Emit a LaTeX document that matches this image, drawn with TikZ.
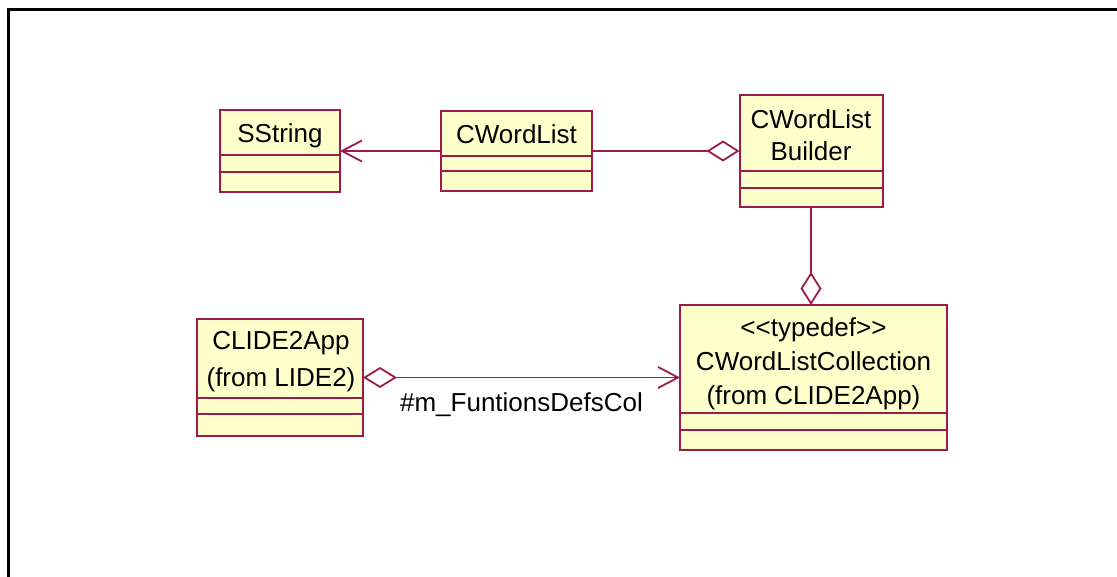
\documentclass[tikz,border=0pt]{standalone}
\usepackage{fontspec}
\setmainfont{Liberation Sans}
\usetikzlibrary{arrows.meta}
\definecolor{clsline}{HTML}{9B1C4A}
\definecolor{clsfill}{HTML}{FFFFCC}
\newcommand\lt{\mbox{<}}
\newcommand\gt{\mbox{>}}
\tikzset{
  clsbox/.style={draw=clsline, fill=clsfill, line width=2pt, inner sep=0pt, outer sep=0pt},
  clsname/.style={align=center, inner sep=0pt, font=\fontsize{26}{33}\selectfont},
  divider/.style={draw=clsline, line width=2pt},
  link/.style={draw=clsline, line width=1.8pt},
  navig/.style={-{Straight Barb[length=20pt,width=21pt,line width=1.8pt]}},
  aggr/.style={-{Diamond[open,length=33pt,width=21pt,line width=1.8pt]}},
  aggrstart/.style={{Diamond[open,length=34pt,width=21pt,line width=1.8pt]}-{Straight Barb[length=20pt,width=21pt,line width=1.8pt]}},
  rolelabel/.style={inner sep=0pt, font=\fontsize{26}{30}\selectfont}
}
\begin{document}
\begin{tikzpicture}[x=1pt,y=-1pt]
\useasboundingbox (0,0) rectangle (1117,577);

% page frame
\draw[line width=3pt] (8,578) -- (8,10) -- (1118,10);

% SString
\node[clsbox, minimum width=120pt, minimum height=82pt] (ss) at (280,151) {};
\node[clsname] (ssname) at (280,136) {SString};
\draw[divider] (220,155) -- (340,155);
\draw[divider] (220,172) -- (340,172);

% CWordList
\node[clsbox, minimum width=151pt, minimum height=80pt] (cwl) at (516.5,151) {};
\node[clsname] (cwlname) at (516.5,134) {CWordList};
\draw[divider] (441,156) -- (592,156);
\draw[divider] (441,171) -- (592,171);

% CWordListBuilder
\node[clsbox, minimum width=143pt, minimum height=112pt] (bld) at (811,151) {};
\node[clsname, font=\fontsize{26}{32}\selectfont] (bldname) at (811,135) {CWordList\\Builder};
\draw[divider] (739.5,171) -- (882.5,171);
\draw[divider] (739.5,188) -- (882.5,188);

% CLIDE2App
\node[clsbox, minimum width=166pt, minimum height=117pt] (app) at (280,377.5) {};
\node[clsname, font=\fontsize{26}{37}\selectfont] (appname) at (281,362) {CLIDE2App\\(from LIDE2)};
\draw[divider] (197,398) -- (363,398);
\draw[divider] (197,414) -- (363,414);

% CWordListCollection
\node[clsbox, minimum width=267pt, minimum height=145pt] (cwlc) at (813.5,377.5) {};
\node[clsname, font=\fontsize{26}{34}\selectfont] (cwlcname) at (813.5,364) {\lt\lt typedef\gt\gt\\CWordListCollection\\(from CLIDE2App)};
\draw[divider] (680,413) -- (947,413);
\draw[divider] (680,430) -- (947,430);

% relations
\draw[link, navig] (cwl.west) -- (cwl.west -| ss.east);
\draw[link, aggr] (cwl.east) -- (bld.west);
\draw[link, aggr] (bld.south) -- (bld.south |- cwlc.north);
\draw[link, aggrstart] (app.east) -- (cwlc.west)
  node[rolelabel, pos=0.5, below=14pt] (role) {\#m\_FuntionsDefsCol};
\end{tikzpicture}
\end{document}
